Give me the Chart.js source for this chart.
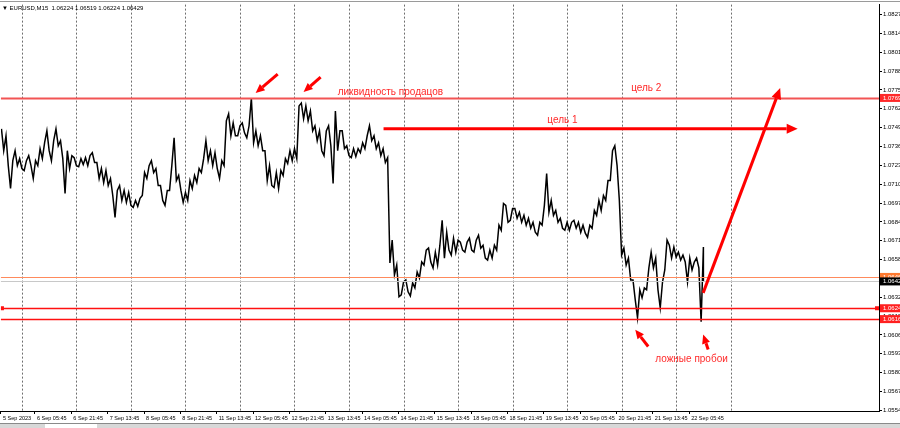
<!DOCTYPE html>
<html lang="ru">
<head>
<meta charset="UTF-8" />
<title>EURUSD,M15</title>
<script src="https://cdn.jsdelivr.net/npm/chart.js"></script>
<style>
  html, body { margin: 0; padding: 0; background: #fff; overflow: hidden; }
  #wrap { width: 900px; height: 428px; }
</style>
</head>
<body>
<div id="wrap"><canvas id="priceChart" width="900" height="428"></canvas></div>
<script>
// M15 price, one high/low pair per 2 trading hours
// (hour 0 = 6 Sep 00:00, weekends skipped)
const startHour = -9;
const stepHours = 2;
const highs = [
  1.07482,1.07434,1.07262,1.07331,1.07276,1.07262,1.07297,1.07262,1.07345,1.07386,
  1.07468,1.07400,1.07482,1.07400,1.07331,1.07297,1.07283,1.07276,1.07283,1.07297,
  1.07317,1.07249,1.07208,1.07194,1.07139,1.07057,1.07091,1.07057,1.07043,1.06988,
  1.07002,1.07180,1.07228,1.07262,1.07208,1.07091,1.07057,1.07228,1.07420,1.07160,
  1.07043,1.07125,1.07160,1.07208,1.07276,1.07400,1.07331,1.07317,1.07262,1.07537,
  1.07585,1.07523,1.07503,1.07523,1.07503,1.07695,1.07468,1.07434,1.07331,1.07228,
  1.07180,1.07194,1.07276,1.07331,1.07345,1.07640,1.07660,1.07640,1.07605,1.07503,
  1.07468,1.07468,1.07503,1.07605,1.07468,1.07468,1.07365,1.07345,1.07345,1.07386,
  1.07434,1.07503,1.07434,1.07386,1.07345,1.07283,1.06714,1.06542,1.06425,1.06439,
  1.06419,1.06494,1.06563,1.06645,1.06659,1.06631,1.06679,1.06851,1.06768,1.06727,
  1.06714,1.06700,1.06700,1.06727,1.06714,1.06748,1.06679,1.06645,1.06679,1.06817,
  1.06967,1.06954,1.06933,1.06933,1.06906,1.06885,1.06865,1.06837,1.06837,1.06954,
  1.07173,1.06988,1.06919,1.06865,1.06837,1.06837,1.06851,1.06837,1.06817,1.06817,
  1.06919,1.06988,1.07022,1.07125,1.07331,1.07365,1.06988,1.06659,1.06590,1.06439,
  1.06371,1.06384,1.06522,1.06631,1.06590,1.06425,1.06714,1.06679,1.06666,1.06631,
  1.06611,1.06590,1.06563,1.06590,1.06666
];
const lows = [
  1.07331,1.07228,1.07070,1.07228,1.07208,1.07194,1.07228,1.07139,1.07228,1.07276,
  1.07331,1.07262,1.07365,1.07276,1.07036,1.07208,1.07228,1.07221,1.07235,1.07228,
  1.07249,1.07139,1.07111,1.07091,1.07022,1.06871,1.06988,1.06974,1.06954,1.06940,
  1.06947,1.07022,1.07139,1.07180,1.07091,1.06988,1.06954,1.07057,1.07125,1.07057,
  1.06974,1.06988,1.07070,1.07111,1.07180,1.07262,1.07228,1.07208,1.07139,1.07228,
  1.07434,1.07434,1.07434,1.07454,1.07420,1.07386,1.07365,1.07331,1.07125,1.07091,
  1.07077,1.07070,1.07160,1.07242,1.07262,1.07276,1.07551,1.07537,1.07468,1.07400,
  1.07331,1.07297,1.07365,1.07105,1.07331,1.07345,1.07297,1.07283,1.07290,1.07317,
  1.07345,1.07400,1.07345,1.07297,1.07249,1.06556,1.06474,1.06323,1.06336,1.06357,
  1.06329,1.06384,1.06453,1.06542,1.06563,1.06522,1.06542,1.06590,1.06645,1.06611,
  1.06631,1.06645,1.06631,1.06645,1.06631,1.06659,1.06590,1.06576,1.06590,1.06645,
  1.06782,1.06837,1.06851,1.06865,1.06837,1.06817,1.06796,1.06768,1.06748,1.06817,
  1.06906,1.06885,1.06837,1.06796,1.06782,1.06782,1.06796,1.06768,1.06762,1.06734,
  1.06796,1.06885,1.06919,1.06988,1.07125,1.07228,1.06611,1.06542,1.06439,1.06302,
  1.06179,1.06316,1.06371,1.06522,1.06371,1.06247,1.06508,1.06590,1.06597,1.06576,
  1.06563,1.06425,1.06508,1.06522,1.06151
];
const lastClose = 1.06429;
const header = '\u25BC EURUSD,M15  1.06224 1.06519 1.06224 1.06429';

const dayLines = [0, 24, 48, 72, 96, 120, 144, 168, 192, 216, 240, 264, 288, 312];
const tickHours = [-9.2, 5.75, 21.75, 37.75, 53.75, 69.75, 85.75, 101.75, 117.75, 133.75,
  149.75, 165.75, 181.75, 197.75, 213.75, 229.75, 245.75, 261.75, 277.75, 293.75];
const tickLabels = ['5 Sep 2023', '6 Sep 05:45', '6 Sep 21:45', '7 Sep 13:45', '8 Sep 05:45',
  '8 Sep 21:45', '11 Sep 13:45', '12 Sep 05:45', '12 Sep 21:45', '13 Sep 13:45',
  '14 Sep 05:45', '14 Sep 21:45', '15 Sep 13:45', '18 Sep 05:45', '18 Sep 21:45',
  '19 Sep 13:45', '20 Sep 05:45', '20 Sep 21:45', '21 Sep 13:45', '22 Sep 05:45'];
const priceTicks = [1.08270, 1.08140, 1.08010, 1.07880, 1.07750, 1.07620, 1.07490, 1.07360,
  1.07230, 1.07100, 1.06970, 1.06840, 1.06710, 1.06580, 1.06450, 1.06320, 1.06190, 1.06060,
  1.05930, 1.05800, 1.05670, 1.05540];

// horizontal levels: liquidity, orange, bid, two support lines
const levels = [1.07695, 1.06460, 1.06429, 1.06244, 1.06169];
const levelStyle = [
  { color: '#f25454', width: 2, box: '#ff2a2a' },
  { color: '#ff8a5c', width: 1, box: '#ff7a30' },
  { color: '#c8c8c8', width: 1, box: '#000000' },
  { color: '#ff1010', width: 1.5, box: '#ff2020' },
  { color: '#ff1010', width: 1.5, box: '#ff2020' }
];

// drawn objects, in [hour, price]
const arrows = [
  { from: [159.2, 1.07482], to: [341.5, 1.07482], w: 3, head: 11 },
  { from: [299.9, 1.06350], to: [333.8, 1.07763], w: 3, head: 11 },
  { from: [112.6, 1.07859], to: [102.9, 1.07729], w: 3, head: 9 },
  { from: [131.5, 1.07839], to: [124.0, 1.07736], w: 3, head: 9 },
  { from: [275.7, 1.05980], to: [270.0, 1.06096], w: 3, head: 9 },
  { from: [302.1, 1.05959], to: [299.9, 1.06062], w: 3, head: 9 }
];
const notes = [
  { text: 'ликвидность продацов', at: [139.0, 1.07736] },
  { text: 'цель 2', at: [268.2, 1.07763] },
  { text: 'цель 1', at: [231.3, 1.07544] },
  { text: 'ложные пробои', at: [278.8, 1.05890] }
];

// zigzag through each high/low pair so the line reads like dense OHLC bars
const points = [];
highs.forEach((hi, i) => {
  const h = startHour + i * stepHours;
  const mid = (hi + lows[i]) / 2;
  const nextMid = i + 1 < highs.length ? (highs[i + 1] + lows[i + 1]) / 2 : lastClose;
  if (nextMid < mid) {
    points.push({ x: h, y: hi }, { x: h + 1, y: lows[i] });
  } else {
    points.push({ x: h, y: lows[i] }, { x: h + 1, y: hi });
  }
});
points.push({ x: startHour + highs.length * stepHours - 1, y: lastClose });

function drawArrow(ctx, x1, y1, x2, y2, w, head) {
  const ang = Math.atan2(y2 - y1, x2 - x1);
  const hx = x2 - head * Math.cos(ang), hy = y2 - head * Math.sin(ang);
  ctx.lineWidth = w;
  ctx.beginPath(); ctx.moveTo(x1, y1); ctx.lineTo(hx, hy); ctx.stroke();
  ctx.beginPath();
  ctx.moveTo(x2, y2);
  ctx.lineTo(hx + head * 0.45 * Math.sin(ang), hy - head * 0.45 * Math.cos(ang));
  ctx.lineTo(hx - head * 0.45 * Math.sin(ang), hy + head * 0.45 * Math.cos(ang));
  ctx.closePath(); ctx.fill();
}

const overlay = {
  id: 'overlay',
  beforeDatasetsDraw(chart) {
    const { ctx, chartArea: a, scales: { x } } = chart;
    ctx.save();
    ctx.strokeStyle = '#6e6e6e';
    ctx.lineWidth = 1;
    ctx.setLineDash([2, 2]);
    dayLines.forEach(h => {
      const px = Math.round(x.getPixelForValue(h)) + 0.5;
      ctx.beginPath(); ctx.moveTo(px, a.top); ctx.lineTo(px, a.bottom); ctx.stroke();
    });
    ctx.restore();
  },
  afterDatasetsDraw(chart) {
    const { ctx, chartArea: a, scales: { x, y } } = chart;
    ctx.save();
    // levels
    levels.forEach((v, i) => {
      const py = Math.round(y.getPixelForValue(v)) + 0.5;
      ctx.strokeStyle = levelStyle[i].color;
      ctx.lineWidth = levelStyle[i].width;
      ctx.beginPath(); ctx.moveTo(a.left, py); ctx.lineTo(a.right, py); ctx.stroke();
    });
    // small end markers on the upper support line
    const sy = y.getPixelForValue(levels[3]);
    ctx.fillStyle = '#ff1010';
    ctx.fillRect(a.left, sy - 2, 3, 4);
    ctx.fillRect(a.right - 4, sy - 2, 4, 4);
    // arrows
    ctx.strokeStyle = '#ff0000';
    ctx.fillStyle = '#ff0000';
    ctx.lineCap = 'butt';
    arrows.forEach(r => {
      drawArrow(ctx, x.getPixelForValue(r.from[0]), y.getPixelForValue(r.from[1]),
        x.getPixelForValue(r.to[0]), y.getPixelForValue(r.to[1]), r.w, r.head);
    });
    // texts
    ctx.font = '10px "Liberation Sans", Arial, sans-serif';
    ctx.fillStyle = '#ff2a2a';
    ctx.textBaseline = 'middle';
    ctx.textAlign = 'left';
    notes.forEach(n => ctx.fillText(n.text, x.getPixelForValue(n.at[0]), y.getPixelForValue(n.at[1])));
    // price boxes on the right scale
    ctx.font = '6px "Liberation Sans", Arial, sans-serif';
    levels.forEach((v, i) => {
      const py = y.getPixelForValue(v);
      ctx.fillStyle = levelStyle[i].box;
      ctx.fillRect(a.right + 1, py - 4, chart.width - a.right - 1, 8);
      ctx.fillStyle = '#fff';
      ctx.fillText(v.toFixed(5), a.right + 4, py);
    });
    ctx.restore();
  },
  afterDraw(chart) {
    const { ctx } = chart;
    ctx.save();
    ctx.fillStyle = '#000';
    ctx.font = '6px "Liberation Sans", Arial, sans-serif';
    ctx.textBaseline = 'middle';
    ctx.fillText(header, 2, 8);
    // top frame
    ctx.strokeStyle = '#9a9a9a';
    ctx.lineWidth = 1;
    ctx.beginPath(); ctx.moveTo(0, 1.5); ctx.lineTo(chart.width, 1.5); ctx.stroke();
    // bottom tab strip
    ctx.fillStyle = '#d8d8d8';
    ctx.fillRect(0, 423, chart.width, 5);
    ctx.fillStyle = '#fff';
    ctx.fillRect(45, 424, 52, 4);
    ctx.strokeStyle = '#8a8a8a';
    ctx.beginPath(); ctx.moveTo(0, 423.5); ctx.lineTo(chart.width, 423.5); ctx.stroke();
    ctx.restore();
  }
};

Chart.defaults.font.family = '"Liberation Sans", Arial, sans-serif';
Chart.defaults.color = '#000';

new Chart(document.getElementById('priceChart'), {
  type: 'line',
  data: {
    datasets: [{
      label: 'EURUSD,M15',
      data: points,
      borderColor: '#000',
      borderWidth: 1.5,
      pointRadius: 0,
      tension: 0
    }]
  },
  options: {
    responsive: false,
    devicePixelRatio: 1,
    animation: false,
    layout: { padding: { top: 3, right: 0, bottom: 5, left: 0 } },
    plugins: { legend: { display: false }, tooltip: { enabled: false } },
    scales: {
      x: {
        type: 'linear',
        min: -9.23,
        max: 377.3,
        afterBuildTicks: s => { s.ticks = tickHours.map(v => ({ value: v })); },
        afterFit: s => { s.height = 12; },
        ticks: {
          autoSkip: false, maxRotation: 0, minRotation: 0,
          align: 'start', labelOffset: 2, padding: 1,
          font: { size: 5.5 },
          callback: (v, i) => tickLabels[i]
        },
        grid: { drawOnChartArea: false, drawTicks: true, tickLength: 3, color: '#000' },
        border: { color: '#000' }
      },
      y: {
        type: 'linear',
        position: 'right',
        min: 1.05535,
        max: 1.08339,
        afterBuildTicks: s => { s.ticks = priceTicks.map(v => ({ value: v })); },
        afterFit: s => { s.width = 21; },
        ticks: {
          padding: 1,
          font: { size: 6 },
          callback: v => v.toFixed(5)
        },
        grid: { drawOnChartArea: false, drawTicks: true, tickLength: 3, color: '#000' },
        border: { color: '#000' }
      }
    }
  },
  plugins: [overlay]
});
</script>
</body>
</html>
